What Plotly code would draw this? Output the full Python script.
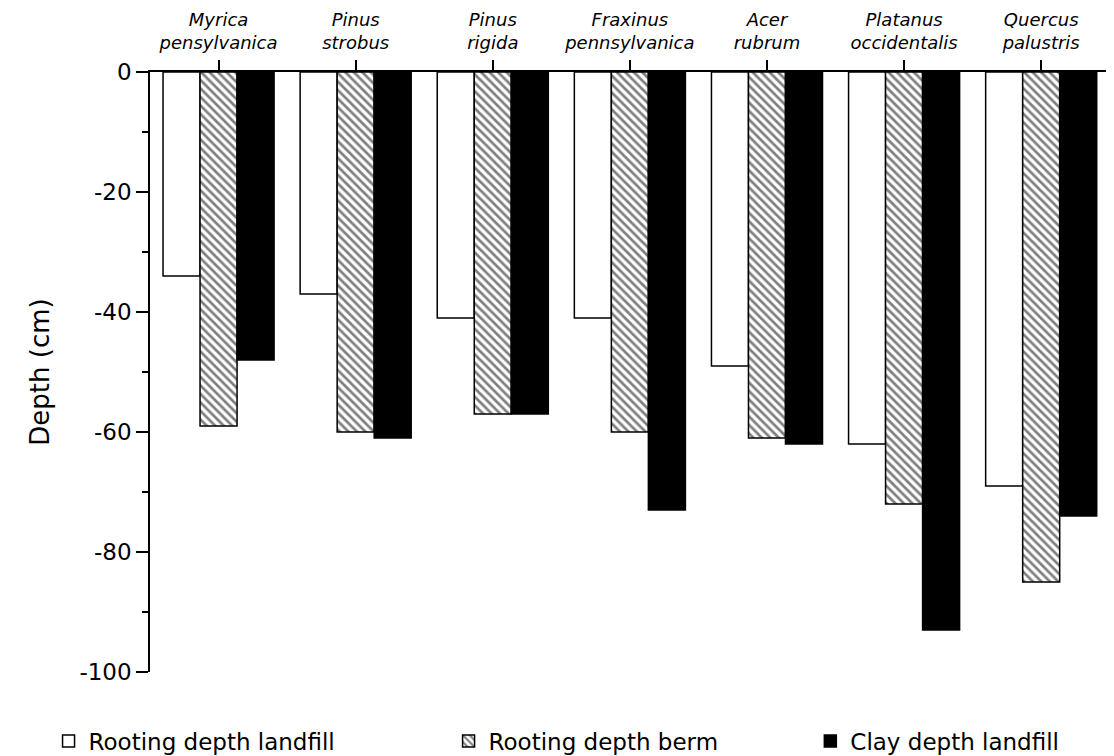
import plotly.graph_objects as go

species = ["<i>Myrica<br>pensylvanica</i>", "<i>Pinus<br>strobus</i>", "<i>Pinus<br>rigida</i>",
           "<i>Fraxinus<br>pennsylvanica</i>", "<i>Acer<br>rubrum</i>",
           "<i>Platanus<br>occidentalis</i>", "<i>Quercus<br>palustris</i>"]

rooting_landfill = [-34, -37, -41, -41, -49, -62, -69]
rooting_berm = [-59, -60, -57, -60, -61, -72, -85]
clay_landfill = [-48, -61, -57, -73, -62, -93, -74]

y_tickvals = [0, -20, -40, -60, -80, -100]
y_ticktext = ["0", "-20", "-40", "-60", "-80", "-100"]

font = "DejaVu Sans"

fig = go.Figure()

fig.add_trace(go.Bar(x=species, y=rooting_landfill, name="Rooting depth landfill",
                     marker=dict(color="white", line=dict(color="black", width=1.5)),
                     legend="legend", showlegend=True))
fig.add_trace(go.Bar(x=species, y=rooting_berm, name="Rooting depth berm",
                     marker=dict(color="white", line=dict(color="black", width=1.5),
                                 pattern=dict(shape="\\", fgcolor="black", bgcolor="white",
                                              size=6, solidity=0.45)),
                     legend="legend2", showlegend=True))
fig.add_trace(go.Bar(x=species, y=clay_landfill, name="Clay depth landfill",
                     marker=dict(color="black", line=dict(color="black", width=1.5)),
                     legend="legend3", showlegend=True))

leg_font = dict(family=font, size=23, color="black")

# page has an 8px body margin, so the figure is a bit smaller than the window
fig.update_layout(
    width=1106, height=748,
    margin=dict(l=142, r=7, t=64, b=84, autoexpand=False),
    paper_bgcolor="white", plot_bgcolor="white",
    barmode="group", bargap=0.19, bargroupgap=0,
    font=dict(family=font, color="black"),
    showlegend=True,
    legend=dict(x=-0.106, xanchor="left", y=-0.115, yanchor="middle", font=leg_font,
                bgcolor="rgba(0,0,0,0)"),
    legend2=dict(x=0.312, xanchor="left", y=-0.115, yanchor="middle", font=leg_font,
                 bgcolor="rgba(0,0,0,0)"),
    legend3=dict(x=0.690, xanchor="left", y=-0.115, yanchor="middle", font=leg_font,
                 bgcolor="rgba(0,0,0,0)"),
)

fig.update_xaxes(
    side="top", range=[-0.5, 6.48], showline=True, linecolor="black", linewidth=1.5,
    ticks="outside", ticklen=10, tickcolor="black", tickwidth=1.5, tickangle=0,
    ticklabelstandoff=4,
    tickfont=dict(family=font, size=18, color="black"), showgrid=False, zeroline=False,
)

fig.update_yaxes(
    range=[-100, 0], tickvals=y_tickvals, ticktext=y_ticktext,
    showline=True, linecolor="black", linewidth=1.5,
    ticks="outside", ticklen=12, tickcolor="black", tickwidth=1.5,
    minor=dict(dtick=10, ticks="outside", ticklen=6, tickcolor="black", tickwidth=1.5),
    tickfont=dict(family=font, size=23, color="black"), showgrid=False, zeroline=False,
    title=dict(text="Depth (cm)", font=dict(family=font, size=26, color="black"), standoff=22),
)

fig.write_html("out.html")
